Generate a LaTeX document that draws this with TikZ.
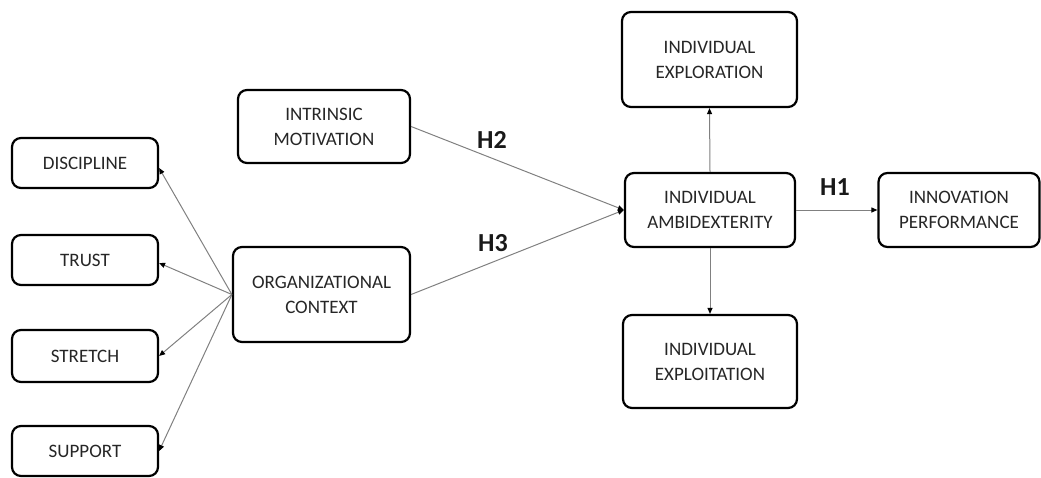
\documentclass[tikz,border=0pt]{standalone}
\usepackage{fontspec}
\setmainfont{Carlito}
\usetikzlibrary{arrows.meta}
\definecolor{boxtext}{gray}{0.15}
\definecolor{linkgray}{gray}{0.5}
\tikzset{
  box/.style={draw=black, line width=2.2pt, rounded corners=9pt, fill=white,
    text=boxtext, align=center, inner sep=2pt,
    font=\fontsize{19}{25}\selectfont},
  link/.style={draw=linkgray, line width=1pt,
    -{Triangle[length=6pt,width=5pt,fill=black,color=black]}},
  hyp/.style={font=\bfseries\fontsize{26}{28}\selectfont, text=black!90}
}
\begin{document}
\begin{tikzpicture}[x=1pt,y=-1pt]
  \useasboundingbox (0,0) rectangle (1041,477);

  % dimensions of organizational context
  \node[box, minimum width=146pt, minimum height=50pt] (disc)    at (85,163) {DISCIPLINE};
  \node[box, minimum width=146pt, minimum height=50pt] (trust)   at (85,260) {TRUST};
  \node[box, minimum width=146pt, minimum height=52pt] (stretch) at (85,356) {STRETCH};
  \node[box, minimum width=146pt, minimum height=50pt] (support) at (85,451) {SUPPORT};

  % antecedents
  \node[box, minimum width=172pt, minimum height=73pt] (intr) at (324,126.5) {INTRINSIC\\MOTIVATION};
  \node[box, minimum width=177pt, minimum height=95pt] (org)  at (321.5,294.5) {ORGANIZATIONAL\\CONTEXT};

  % ambidexterity and outcomes
  \node[box, minimum width=175pt, minimum height=95pt] (expl)    at (709.5,59.5) {INDIVIDUAL\\EXPLORATION};
  \node[box, minimum width=170pt, minimum height=74pt] (amb)     at (710,210) {INDIVIDUAL\\AMBIDEXTERITY};
  \node[box, minimum width=161pt, minimum height=74pt] (innov)   at (959,210) {INNOVATION\\PERFORMANCE};
  \node[box, minimum width=174pt, minimum height=93pt] (exploit) at (710,361.5) {INDIVIDUAL\\EXPLOITATION};

  % connectors
  \draw[link] (org.west) -- ([yshift=-5pt]disc.east);
  \draw[link] (org.west) -- ([yshift=-3pt]trust.east);
  \draw[link] (org.west) -- (stretch.east);
  \draw[link] (org.west) -- (support.east);

  \draw[link] (intr.east) -- (amb.west);
  \draw[link] (org.east) -- (amb.west);
  \draw[link] (amb.north) -- (expl.south);
  \draw[link] (amb.south) -- (exploit.north);
  \draw[link] (amb.east) -- (innov.west);

  % hypothesis labels
  \node[hyp] (h2) at (492,140) {H2};
  \node[hyp] (h3) at (493,243) {H3};
  \node[hyp] (h1) at (835,187) {H1};
\end{tikzpicture}
\end{document}
